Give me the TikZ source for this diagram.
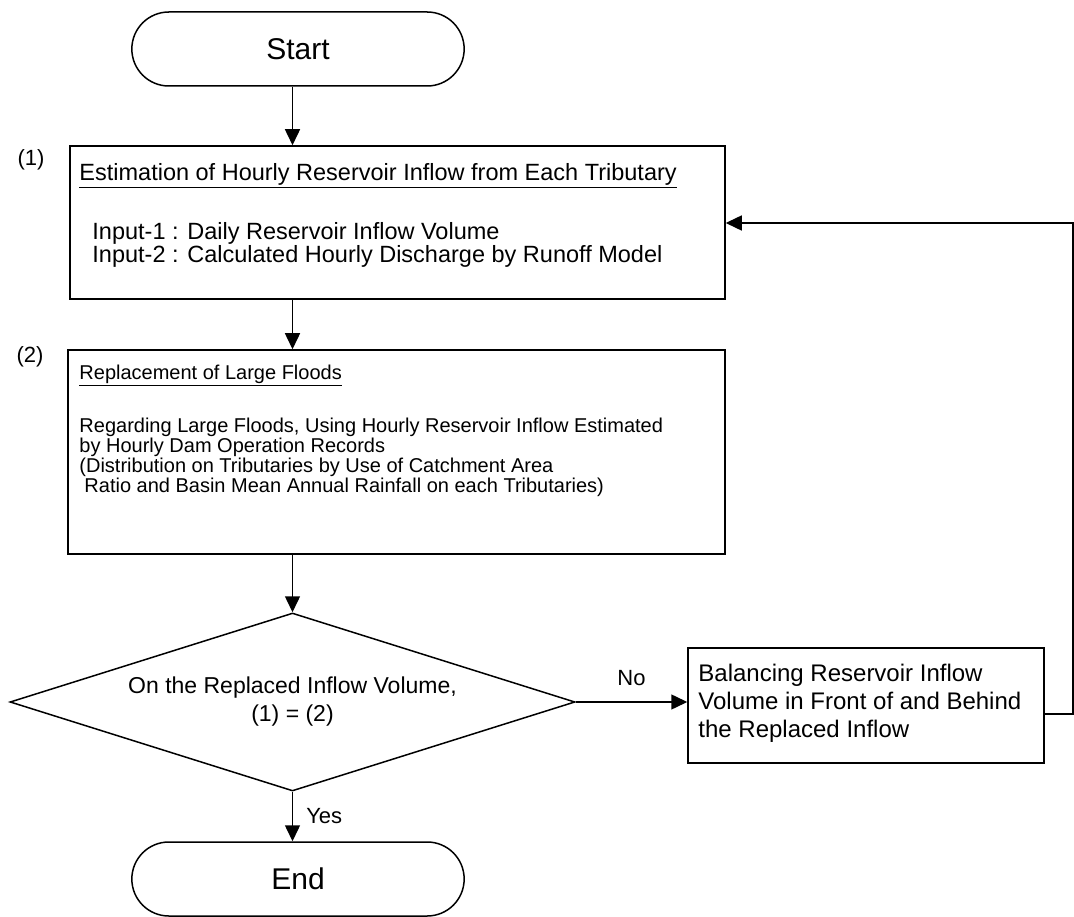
\documentclass[tikz,border=0pt]{standalone}
\usepackage{fontspec}
\setmainfont{Liberation Sans}
\usetikzlibrary{positioning,arrows.meta,shapes.geometric,shapes.misc,calc}

\begin{document}
\begin{tikzpicture}[x=1pt, y=-1pt,
  termbox/.style={rounded rectangle, draw, line width=1.5pt, minimum width=339pt, minimum height=74pt, font=\fontsize{30}{32}\selectfont},
  procbox/.style={rectangle, draw, line width=1.5pt, inner sep=0pt},
  boxtext/.style={anchor=north west, align=left, inner sep=0pt},
  decision/.style={diamond, draw, line width=1.5pt, aspect=3.17, minimum width=565pt, minimum height=178pt, inner sep=0pt, align=center, font=\fontsize{23}{28}\selectfont},
  steplabel/.style={font=\fontsize{22}{24}\selectfont, inner sep=0pt},
  arrow/.style={-{Triangle[length=16pt,width=15pt]}, line width=1.5pt}
  ]
  \useasboundingbox (0,0) rectangle (1074,917);
  \node[termbox] (start) at (298,49) {Start};
  \node[procbox, minimum width=655pt, minimum height=153pt] (estim) at (397.5,222.5) {};
  \node[boxtext, font=\fontsize{23.5}{21}\selectfont] (estimtxt) at ([xshift=10pt, yshift=-18pt]estim.north west)
    {\underline{Estimation of Hourly Reservoir Inflow from Each Tributary}\\[34pt]
     \hspace*{13pt}Input-1 : Daily Reservoir Inflow Volume\\
     \hspace*{13pt}Input-2 : Calculated Hourly Discharge by Runoff Model};
  \node[procbox, minimum width=657pt, minimum height=204pt] (repl) at (396.5,452) {};
  \node[boxtext, font=\fontsize{20}{20}\selectfont] (repltxt) at ([xshift=12pt, yshift=-16pt]repl.north west)
    {\underline{Replacement of Large Floods}\\[31pt]
     Regarding Large Floods, Using Hourly Reservoir Inflow Estimated\\
     by Hourly Dam Operation Records\\
     (Distribution on Tributaries by Use of Catchment Area\\
     \hspace*{5pt}Ratio and Basin Mean Annual Rainfall on each Tributaries)};
  \node[decision] (dec) at (292.5,702) {On the Replaced Inflow Volume,\\(1) = (2)};
  \node[procbox, minimum width=356pt, minimum height=115pt] (bal) at (866,705.5) {};
  \node[boxtext, font=\fontsize{24}{28}\selectfont] (baltxt) at ([xshift=11pt, yshift=-17pt]bal.north west)
    {Balancing Reservoir Inflow\\Volume in Front of and Behind\\the Replaced Inflow};
  \node[termbox] (end) at (298,879) {End};
  \node[steplabel] (lbl1) at (31,160) {(1)};
  \node[steplabel] (lbl2) at (30,357) {(2)};
  % main flow
  \draw[arrow] (start.south -| dec.north) -- (estim.north -| dec.north);
  \draw[arrow] (estim.south -| dec.north) -- (repl.north -| dec.north);
  \draw[arrow] (repl.south -| dec.north) -- (dec.north);
  \draw[arrow] (dec.south) -- node[steplabel, right=13pt] (yes) {Yes} (end.north -| dec.south);
  \draw[arrow] (dec.east) -- node[steplabel, above=16pt] (no) {No} (bal.west |- dec.east);
  % loop back
  \coordinate (fbdown) at (1073,714);
  \coordinate (fbup) at (1073,223);
  \draw[arrow] (bal.east |- fbdown) -- (fbdown) -- (fbup) -- (estim.east |- fbup);
\end{tikzpicture}
\end{document}
